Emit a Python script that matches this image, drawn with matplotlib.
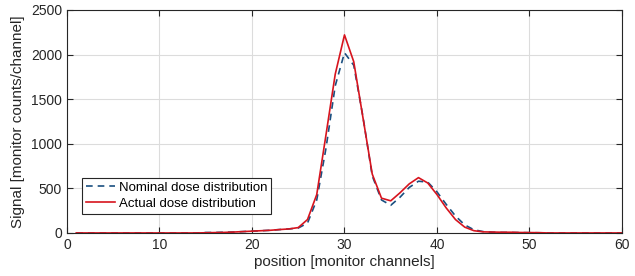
import numpy as np
import matplotlib
matplotlib.use('Agg')
import matplotlib.pyplot as plt

plt.rcParams['font.family'] = ['Liberation Sans', 'DejaVu Sans']

# position [monitor channels]
position = np.arange(1, 61)

nominal = [0, 0, 0, 0, 0, 0, 0, 0, 0, 0,
           0, 0, 0, 0, 5, 5, 8, 10, 15, 20,
           25, 30, 38, 45, 55, 110, 370, 950, 1650, 2020,
           1880, 1300, 640, 370, 310, 400, 510, 580, 570, 460,
           320, 190, 90, 35, 15, 8, 6, 5, 4, 3,
           2, 0, 0, 0, 0, 0, 0, 0, 0, 0]

actual = [0, 0, 0, 0, 0, 0, 0, 0, 0, 0,
          0, 0, 0, 0, 2, 4, 6, 10, 15, 20,
          25, 30, 38, 45, 60, 150, 430, 1100, 1780, 2220,
          1920, 1290, 660, 390, 360, 450, 550, 620, 560, 430,
          280, 150, 65, 25, 12, 10, 8, 8, 5, 4,
          3, 0, 0, 0, 0, 0, 0, 0, 0, 0]

fig = plt.figure(figsize=(6.35, 2.76), dpi=100)
ax = fig.add_axes([0.1055, 0.156, 0.874, 0.808])

ax.plot(position, nominal, '--', color='#1a4f80', lw=1.2, dashes=(4, 3),
        label='Nominal dose distribution')
ax.plot(position, actual, '-', color='#d7141e', lw=1.2,
        label='Actual dose distribution')

ax.set_xlim(0, 60)
ax.set_ylim(0, 2500)
ax.set_xticks(np.arange(0, 61, 10))
ax.set_yticks(np.arange(0, 2501, 500))
ax.grid(True, color='#dcdcdc', lw=0.8)
ax.set_axisbelow(True)
ax.tick_params(direction='in', labelsize=10, length=4, color='#262626',
               top=True, right=True, labelcolor='#262626')
for s in ax.spines.values():
    s.set_color('#262626')
    s.set_linewidth(0.8)

ax.set_xlabel('position [monitor channels]', fontsize=11, color='#262626', labelpad=2)
ax.set_ylabel('Signal [monitor counts/channel]', fontsize=11, color='#262626', labelpad=4)

leg = ax.legend(loc='lower left', bbox_to_anchor=(0.027, 0.085), fontsize=9.5,
                fancybox=False, framealpha=1, edgecolor='#262626',
                handlelength=2.2, handletextpad=0.3, borderpad=0.3,
                labelspacing=0.3, borderaxespad=0)
leg.get_frame().set_linewidth(0.8)

fig.savefig('out.png', dpi=100)
